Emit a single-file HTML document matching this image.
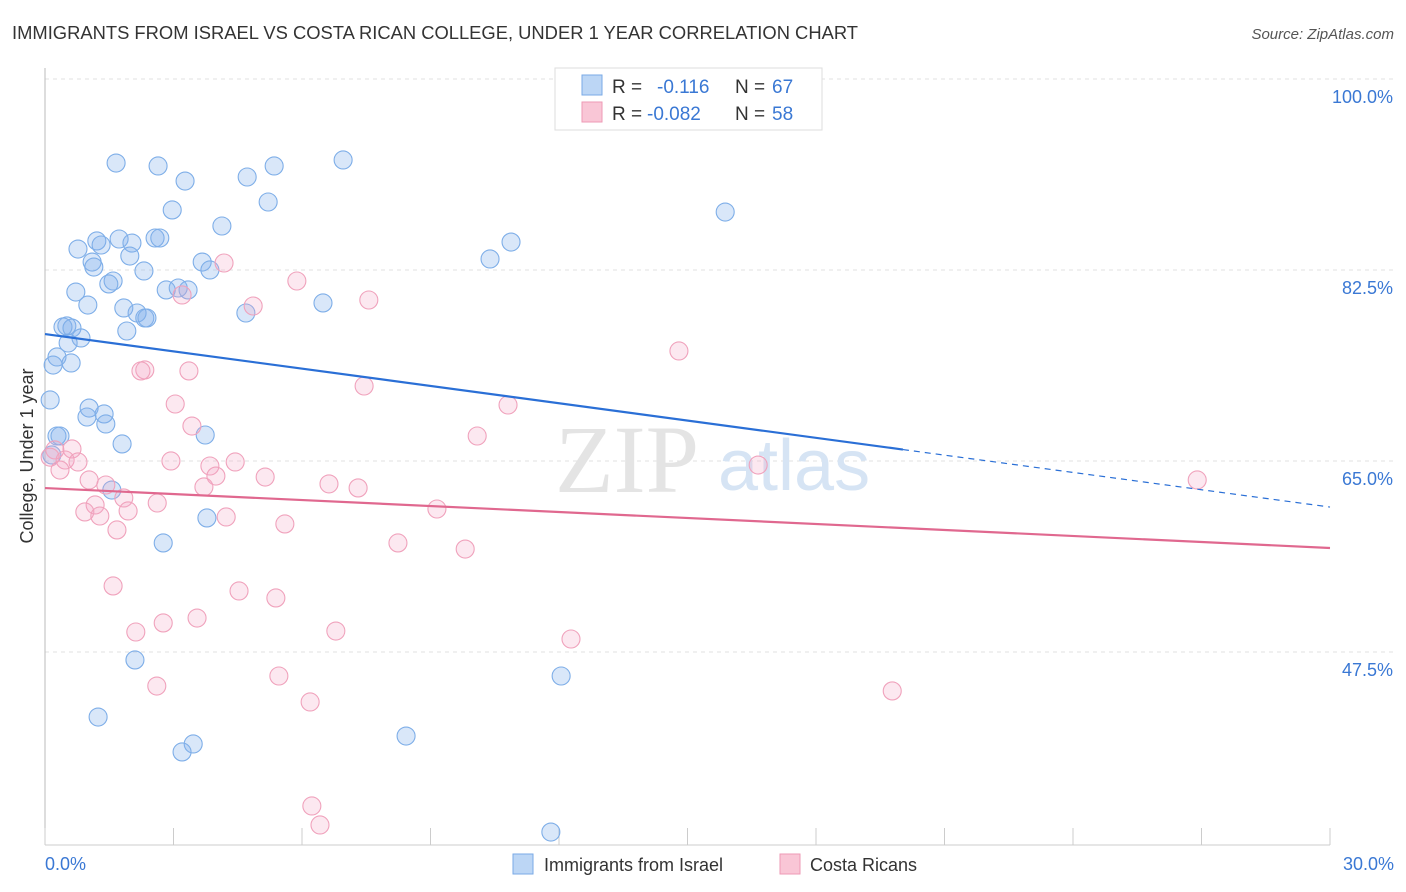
<!DOCTYPE html>
<html><head><meta charset="utf-8"><style>
body{margin:0;background:#fff;font-family:"Liberation Sans",sans-serif;}
svg{display:block}
</style></head><body>
<svg id="chart" width="1406" height="892" xmlns="http://www.w3.org/2000/svg">
<text x="12" y="39" font-size="18" fill="#333" textLength="846" lengthAdjust="spacingAndGlyphs">IMMIGRANTS FROM ISRAEL VS COSTA RICAN COLLEGE, UNDER 1 YEAR CORRELATION CHART</text>
<text x="1394" y="39" font-size="15" fill="#555" font-style="italic" text-anchor="end">Source: ZipAtlas.com</text>
<g id="grid"></g>
<g>
<text x="555" y="492" font-family="Liberation Serif,serif" font-size="96" fill="#e4e4e4">ZIP</text>
<text x="718" y="490" font-size="72" fill="#d6e4f4">atlas</text>
</g>
<line x1="45" y1="68" x2="45" y2="845" stroke="#bbb" stroke-width="1"/>
<line x1="45" y1="845" x2="1330" y2="845" stroke="#ccc" stroke-width="1"/>
<g id="xticks"></g>
<g id="ylabels"></g>
<text x="45" y="870" font-size="18" fill="#3a78d4">0.0%</text>
<text x="1394" y="870" font-size="18" fill="#3a78d4" text-anchor="end">30.0%</text>
<text transform="translate(33,456) rotate(-90)" font-size="18" fill="#333" text-anchor="middle">College, Under 1 year</text>
<g id="pts"></g>
<g id="lines"></g>
<g>
<rect x="555" y="68" width="267" height="62" fill="#fff" stroke="#ddd"/>
<rect x="582" y="75" width="20" height="20" fill="#bcd6f5" stroke="#7aaae6"/>
<rect x="582" y="102" width="20" height="20" fill="#f9c6d6" stroke="#ee9ab5"/>
<text x="612" y="93" font-size="19" fill="#333">R = </text><text x="657" y="93" font-size="19" fill="#3a78d4">-0.116</text>
<text x="735" y="93" font-size="19" fill="#333">N = </text><text x="772" y="93" font-size="19" fill="#3a78d4">67</text>
<text x="612" y="120" font-size="19" fill="#333">R = </text><text x="647" y="120" font-size="19" fill="#3a78d4">-0.082</text>
<text x="735" y="120" font-size="19" fill="#333">N = </text><text x="772" y="120" font-size="19" fill="#3a78d4">58</text>
</g>
<g>
<rect x="513" y="854" width="20" height="20" fill="#bcd6f5" stroke="#7aaae6"/>
<text x="544" y="871" font-size="18" fill="#333">Immigrants from Israel</text>
<rect x="780" y="854" width="20" height="20" fill="#f9c6d6" stroke="#ee9ab5"/>
<text x="810" y="871" font-size="18" fill="#333">Costa Ricans</text>
</g>
</svg>
<script>
const yTicks=[100,82.5,65,47.5];
const yTickLabels=["100.0%","82.5%","65.0%","47.5%"];
const xTicks=[0,3,6,9,12,15,18,21,24,27,30];
const blueX=[1.66,2.64,3.27,5.35,6.96,4.72,5.21,2.97,4.13,15.88,10.88,10.39,1.21,1.31,1.73,2.03,2.57,2.68,0.77,1.10,1.14,1.98,2.31,3.67,3.85,1.59,1.49,0.72,1.00,2.83,3.11,3.34,1.84,2.15,2.33,2.38,4.69,6.49,0.42,0.51,0.63,0.84,0.54,1.91,0.28,0.19,0.61,0.12,1.03,0.98,1.38,1.42,0.28,0.35,3.74,1.80,1.56,3.78,2.76,2.10,12.05,1.24,3.46,3.20,8.43,11.81,0.16];
const blueY=[93.95,93.68,92.3,93.68,94.23,92.67,90.38,89.65,88.18,89.46,86.71,85.16,86.81,86.44,86.99,86.62,87.08,87.08,86.07,84.88,84.42,85.43,84.06,84.88,84.15,83.14,82.87,82.13,80.94,82.32,82.50,82.32,80.67,80.21,79.75,79.75,80.21,81.13,78.93,79.02,78.83,77.92,77.46,78.56,76.18,75.44,75.63,72.24,71.50,70.68,70.96,70.04,68.94,68.94,69.03,68.21,63.99,61.43,59.14,48.42,46.95,43.19,40.72,39.99,41.45,32.65,67.2];
const pinkX=[4.18,5.88,3.20,4.86,7.56,14.80,2.33,2.24,3.36,7.45,3.04,10.81,3.43,10.09,0.23,0.63,0.47,0.77,0.12,0.35,2.94,3.85,4.44,16.65,5.14,1.03,3.99,1.42,6.63,7.31,3.71,26.90,1.84,2.62,1.17,0.93,1.28,1.94,4.23,9.15,5.60,1.68,8.24,9.81,1.59,4.53,5.39,3.55,2.76,2.12,6.79,12.28,5.46,2.61,19.78,6.19,6.23,6.42];
const pinkY=[84.79,83.14,81.86,80.85,81.40,76.73,74.99,74.90,74.90,73.52,71.87,71.78,69.85,68.94,67.66,67.75,66.74,66.56,67.0,65.82,66.65,66.19,66.56,66.28,65.18,64.91,65.27,64.45,64.55,64.18,64.27,64.91,63.26,62.80,62.62,61.98,61.61,62.07,61.52,62.25,60.88,60.33,59.14,58.58,55.20,54.74,54.10,52.26,51.81,50.98,51.07,50.34,46.95,46.03,45.58,44.57,35.04,33.30];
const blueTrend=[78.28,62.43]; const blueSolidEnd=20.03;
const pinkTrend=[64.17,58.68];
const NS="http://www.w3.org/2000/svg";
const X=v=>45+v/30*1285;
const Y=v=>97+(100-v)*10.914;
function mk(tag,attrs,parent){const e=document.createElementNS(NS,tag);for(const k in attrs)e.setAttribute(k,attrs[k]);parent.appendChild(e);return e;}
const grid=document.getElementById('grid'),yl=document.getElementById('ylabels'),xt=document.getElementById('xticks');
yTicks.forEach((t,i)=>{
 const l=mk('line',{x1:45,x2:1394,y1:Y(t)-18,y2:Y(t)-18,stroke:'#e2e2e2','stroke-dasharray':'4,4'},grid);
 
 
 const tx=mk('text',{x:1393,y:Y(t)+6,'font-size':18,fill:'#3a78d4','text-anchor':'end'},yl);
 tx.textContent=yTickLabels[i];
 
 
});
xTicks.forEach(t=>{
 const l=mk('line',{x1:X(t),x2:X(t),y1:828,y2:845,stroke:'#ccc'},xt);
 
 
});
const pts=document.getElementById('pts');
blueX.forEach((x,i)=>{
 const c=mk('circle',{cx:X(x),cy:Y(blueY[i]),r:9,fill:'rgba(130,175,235,0.3)',stroke:'#7eaee8','stroke-width':1.1},pts);
 
 
});
pinkX.forEach((x,i)=>{
 const c=mk('circle',{cx:X(x),cy:Y(pinkY[i]),r:9,fill:'rgba(245,165,195,0.25)',stroke:'#f0a2bc','stroke-width':1.1},pts);
 
 
});
const lines=document.getElementById('lines');
const bAt=x=>blueTrend[0]+(blueTrend[1]-blueTrend[0])*x/30;
const b1=mk('line',{x1:X(0),y1:Y(bAt(0)),x2:X(blueSolidEnd),y2:Y(bAt(blueSolidEnd)),stroke:'#2a6fd6','stroke-width':2.2},lines);


const b2=mk('line',{x1:X(blueSolidEnd),y1:Y(bAt(blueSolidEnd)),x2:X(30),y2:Y(bAt(30)),stroke:'#2a6fd6','stroke-width':1.2,'stroke-dasharray':'6,5'},lines);


const p1=mk('line',{x1:X(0),y1:Y(pinkTrend[0]),x2:X(30),y2:Y(pinkTrend[1]),stroke:'#e0688f','stroke-width':2.2},lines);


</script>
</body></html>
